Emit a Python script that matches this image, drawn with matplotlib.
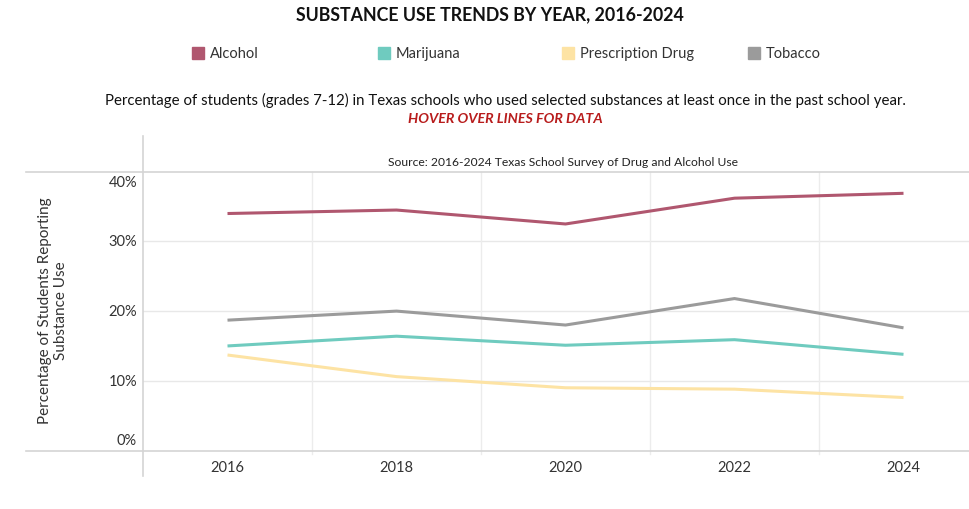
import matplotlib.pyplot as plt
from matplotlib.lines import Line2D
from matplotlib.patches import Rectangle
from matplotlib.transforms import ScaledTranslation

# survey years and share of students (%) reporting use in the past school year
years = [2016, 2018, 2020, 2022, 2024]
alcohol = [34.0, 34.5, 32.5, 36.2, 36.9]
marijuana = [15.0, 16.4, 15.1, 15.9, 13.8]
prescription = [13.7, 10.6, 9.0, 8.8, 7.6]
tobacco = [18.7, 20.0, 18.0, 21.8, 17.6]

series_names = ["Alcohol", "Marijuana", "Prescription Drug", "Tobacco"]
series_colors = ["#b0576f", "#6fcbbf", "#fde3a4", "#9b9b9b"]

y_ticks = [0, 10, 20, 30, 40]
y_tick_labels = ["0%", "10%", "20%", "30%", "40%"]

FONT = ["Lato", "DejaVu Sans"]
plt.rcParams["font.family"] = FONT

W, H = 970, 510
fig = plt.figure(figsize=(W / 100, H / 100), dpi=100)


def fx(px):
    return px / W


def fy(py):
    return 1 - py / H


ax = fig.add_axes([fx(143), fy(451.5), fx(970) - fx(143), fy(172.7) - fy(451.5)])

for values, color in zip([alcohol, marijuana, prescription, tobacco], series_colors):
    ax.plot(years, values, color=color, lw=2.2, solid_capstyle="butt", zorder=3)

ax.set_ylim(0, 40)
ax.set_xlim(2015, 2015 + (970 - 143) / 84.5)
ax.set_yticks(y_ticks)
ax.set_yticklabels([])
ax.set_xticks(years)
ax.set_xticklabels([str(y) for y in years])
ax.tick_params(axis="both", length=0, labelsize=10.5, colors="#333333")
ax.tick_params(axis="x", pad=6.5)

# y labels: the end labels sit inside the frame, the rest centred on their gridline
for v, lab in zip(y_ticks, y_tick_labels):
    dy = 10 if v == y_ticks[0] else (-10 if v == y_ticks[-1] else 0)
    tr = ax.get_yaxis_transform() + ScaledTranslation(-6 / 100, dy / 100, fig.dpi_scale_trans)
    ax.text(0, v, lab, transform=tr, ha="right", va="center", fontsize=10.5, color="#333333")

for s in ax.spines.values():
    s.set_visible(False)

# light gridlines
for v in [10, 20, 30]:
    ax.axhline(v, color="#e8e8e8", lw=1, zorder=1)
for yr in [2017, 2019, 2021, 2023]:
    ax.plot([yr, yr], [-0.5, 40], color="#ececec", lw=1, zorder=1, clip_on=False)

# frame lines across the figure
fig.add_artist(Line2D([fx(26), 1], [fy(172.7), fy(172.7)], color="#d4d4d4", lw=1.2))
fig.add_artist(Line2D([fx(26), 1], [fy(451.5), fy(451.5)], color="#d4d4d4", lw=1.2))
fig.add_artist(Line2D([fx(143), fx(143)], [fy(137), fy(477)], color="#d4d4d4", lw=1.2))

ax.set_ylabel("Percentage of Students Reporting\nSubstance Use", fontsize=11, color="#333333",
              va="center")
ax.yaxis.set_label_coords(fx(53), fy(311), transform=fig.transFigure)

fig.text(fx(563), fy(163), "Source: 2016-2024 Texas School Survey of Drug and Alcohol Use",
         ha="center", va="center", fontsize=8.7, color="#222222")

# header
fig.text(fx(490), fy(15), "SUBSTANCE USE TRENDS BY YEAR, 2016-2024", ha="center", va="center",
         fontsize=12.8, fontweight="bold", color="#111111")

legend_x = [192, 378, 562, 748]
for name, color, lx in zip(series_names, series_colors, legend_x):
    fig.add_artist(Rectangle((fx(lx), fy(60)), fx(12), fy(48) - fy(60), color=color,
                             transform=fig.transFigure))
    fig.text(fx(lx + 18), fy(54), name, ha="left", va="center", fontsize=10.5, color="#333333")

fig.text(fx(505), fy(100),
         "Percentage of students (grades 7-12) in Texas schools who used selected substances "
         "at least once in the past school year.",
         ha="center", va="center", fontsize=10.8, color="#111111")
fig.text(fx(505), fy(119), "HOVER OVER LINES FOR DATA", ha="center", va="center",
         fontsize=10.3, fontweight="bold", fontstyle="italic", color="#b81c1c")

fig.savefig("out.png", dpi=100, facecolor="white")
